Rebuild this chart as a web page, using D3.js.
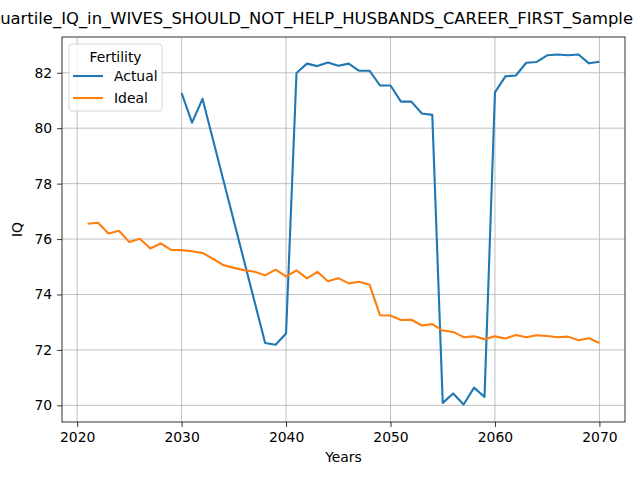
<!DOCTYPE html>
<html>
<head>
<meta charset="utf-8">
<script src="https://cdn.jsdelivr.net/npm/d3@7"></script>
<style>
  body { margin: 0; background: #fff; }
  svg { font-family: "DejaVu Sans", sans-serif; }
</style>
</head>
<body>
<svg id="chart"></svg>
<script>
// values
const actualYears = [2030, 2031, 2032, 2038, 2039, 2040, 2041, 2042, 2043, 2044, 2045, 2046, 2047, 2048, 2049, 2050,
  2051, 2052, 2053, 2054, 2055, 2056, 2057, 2058, 2059, 2060, 2061, 2062, 2063, 2064, 2065, 2066, 2067, 2068, 2069, 2070];
const actualIQ = [81.27, 80.2, 81.06, 72.25, 72.19, 72.59, 81.99, 82.33, 82.24, 82.37, 82.25, 82.33, 82.07, 82.07, 81.54, 81.54,
  80.96, 80.96, 80.53, 80.48, 70.09, 70.43, 70.03, 70.64, 70.3, 81.29, 81.87, 81.9, 82.36, 82.39, 82.63, 82.66, 82.63, 82.66, 82.34, 82.4];

const idealYears = d3.range(2021, 2071);
const idealIQ = [76.55, 76.59, 76.2, 76.3, 75.89, 76.01, 75.66, 75.84, 75.61, 75.6,
  75.56, 75.5, 75.29, 75.06, 74.96, 74.88, 74.82, 74.69, 74.9, 74.65,
  74.87, 74.58, 74.82, 74.48, 74.59, 74.4, 74.46, 74.35, 73.25, 73.24,
  73.08, 73.09, 72.88, 72.93, 72.7, 72.65, 72.46, 72.49, 72.39, 72.49,
  72.41, 72.54, 72.46, 72.53, 72.5, 72.46, 72.48, 72.35, 72.42, 72.25];

const xTicks = [2020, 2030, 2040, 2050, 2060, 2070];
const yTicks = [70, 72, 74, 76, 78, 80, 82];
const seriesNames = ['Actual', 'Ideal'];
const seriesColors = ['#1f77b4', '#ff7f0e'];

const W = 640, H = 480;
const margin = { top: 37, right: 15, bottom: 58, left: 62 };
const width = W - margin.left - margin.right;
const height = H - margin.top - margin.bottom;

const svg = d3.select('#chart').attr('width', W).attr('height', H);

// title, clipped by the page edges like the original
svg.append('text')
  .attr('x', 633)
  .attr('y', 24)
  .attr('text-anchor', 'end')
  .attr('font-size', '16.4px')
  .text('Quartile_IQ_in_WIVES_SHOULD_NOT_HELP_HUSBANDS_CAREER_FIRST_Sample');

const g = svg.append('g').attr('transform', `translate(${margin.left},${margin.top})`);

const x = d3.scaleLinear().domain([2018.55, 2072.45]).range([0, width]);
const y = d3.scaleLinear().domain([69.4, 83.29]).range([height, 0]);

// grid
g.append('g').selectAll('line').data(xTicks).join('line')
  .attr('x1', d => x(d)).attr('x2', d => x(d))
  .attr('y1', 0).attr('y2', height)
  .attr('stroke', '#b0b0b0').attr('stroke-width', 0.8);
g.append('g').selectAll('line').data(yTicks).join('line')
  .attr('x1', 0).attr('x2', width)
  .attr('y1', d => y(d)).attr('y2', d => y(d))
  .attr('stroke', '#b0b0b0').attr('stroke-width', 0.8);

// lines
const line = d3.line().x(d => x(d[0])).y(d => y(d[1]));
const series = [d3.zip(actualYears, actualIQ), d3.zip(idealYears, idealIQ)];
series.forEach((s, i) => {
  g.append('path')
    .datum(s)
    .attr('fill', 'none')
    .attr('stroke', seriesColors[i])
    .attr('stroke-width', 2.1)
    .attr('stroke-linejoin', 'round')
    .attr('d', line);
});

// axes
const xAxis = g.append('g')
  .attr('transform', `translate(0,${height})`)
  .call(d3.axisBottom(x).tickValues(xTicks).tickFormat(d3.format('d')).tickSize(4.9).tickPadding(4.9));
const yAxis = g.append('g')
  .call(d3.axisLeft(y).tickValues(yTicks).tickSize(4.9).tickPadding(4.9));
[xAxis, yAxis].forEach(a => {
  a.select('.domain').remove();
  a.selectAll('line').attr('stroke', '#000').attr('stroke-width', 0.8);
  a.selectAll('text').attr('font-size', '13.9px').attr('fill', '#000').attr('font-family', '"DejaVu Sans", sans-serif');
});

// frame
g.append('rect')
  .attr('width', width).attr('height', height)
  .attr('fill', 'none').attr('stroke', '#000').attr('stroke-width', 0.8);

// axis labels
g.append('text')
  .attr('x', width / 2).attr('y', height + 40)
  .attr('text-anchor', 'middle').attr('font-size', '13.9px')
  .text('Years');
g.append('text')
  .attr('transform', `translate(${-40},${height / 2}) rotate(-90)`)
  .attr('text-anchor', 'middle').attr('font-size', '13.9px')
  .text('IQ');

// legend
const legend = svg.append('g').attr('transform', 'translate(69,44)');
legend.append('rect')
  .attr('width', 93).attr('height', 67).attr('rx', 3)
  .attr('fill', '#fff').attr('fill-opacity', 0.8)
  .attr('stroke', '#cccccc').attr('stroke-width', 0.8);
legend.append('text')
  .attr('x', 46.5).attr('y', 18).attr('text-anchor', 'middle')
  .attr('font-size', '13.9px').text('Fertility');
seriesNames.forEach((n, i) => {
  const yy = 32 + i * 22;
  legend.append('line')
    .attr('x1', 4).attr('x2', 34).attr('y1', yy).attr('y2', yy)
    .attr('stroke', seriesColors[i]).attr('stroke-width', 2.1);
  legend.append('text')
    .attr('x', 45).attr('y', yy + 5)
    .attr('font-size', '13.9px').text(n);
});
</script>
</body>
</html>
